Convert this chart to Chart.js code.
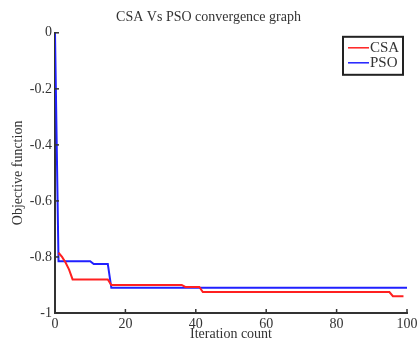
<!DOCTYPE html>
<html>
<head>
<meta charset="utf-8">
<script src="https://cdn.jsdelivr.net/npm/chart.js@4"></script>
<style>
  html, body { margin: 0; padding: 0; background: #fff; }
  #wrap { width: 417px; height: 343px; }
</style>
</head>
<body>
<div id="wrap"><canvas id="conv" width="417" height="343"></canvas></div>
<script>
// values
const csaIter = [1, 2, 3, 4, 5, 15, 16, 36, 37, 41, 42, 95, 96, 99];
const csaVals = [-0.785, -0.8, -0.82, -0.845, -0.88, -0.88, -0.9, -0.9, -0.907, -0.907, -0.925, -0.925, -0.94, -0.94];
const psoIter = [0, 1, 10, 11, 15, 16, 100];
const psoVals = [0, -0.815, -0.815, -0.825, -0.825, -0.91, -0.91];
const xTicks = [0, 20, 40, 60, 80, 100];
const yTicks = [0, -0.2, -0.4, -0.6, -0.8, -1];

const serif = 'Liberation Serif';
const axisCol = '#333';

// inward tick marks + legend box, matlab style
const extras = {
    id: 'extras',
    afterDraw(chart) {
        const ctx = chart.ctx;
        const xs = chart.scales.x, ys = chart.scales.y;
        const a = chart.chartArea;
        ctx.save();
        ctx.strokeStyle = axisCol;
        ctx.lineWidth = 1.5;
        xTicks.forEach(t => {
            const px = xs.getPixelForValue(t);
            ctx.beginPath(); ctx.moveTo(px, a.bottom); ctx.lineTo(px, a.bottom - 4); ctx.stroke();
        });
        yTicks.forEach(t => {
            const py = ys.getPixelForValue(t);
            ctx.beginPath(); ctx.moveTo(a.left, py); ctx.lineTo(a.left + 4, py); ctx.stroke();
        });
        // legend
        const bx = a.right - 64, by = a.top + 4, bw = 60, bh = 38;
        ctx.fillStyle = '#fff';
        ctx.fillRect(bx, by, bw, bh);
        ctx.lineWidth = 2;
        ctx.strokeStyle = '#222';
        ctx.strokeRect(bx, by, bw, bh);
        ctx.font = '15px "' + serif + '"';
        ctx.textBaseline = 'middle';
        chart.data.datasets.forEach((ds, i) => {
            const ly = by + 11 + i * 15;
            ctx.strokeStyle = ds.borderColor;
            ctx.lineWidth = 1.5;
            ctx.beginPath(); ctx.moveTo(bx + 5, ly); ctx.lineTo(bx + 26, ly); ctx.stroke();
            ctx.fillStyle = axisCol;
            ctx.fillText(ds.label, bx + 27, ly);
        });
        ctx.restore();
    }
};

new Chart(document.getElementById('conv'), {
    type: 'line',
    data: {
        datasets: [{
            label: 'CSA',
            data: csaIter.map((x, i) => ({ x: x, y: csaVals[i] })),
            borderColor: '#ff2020',
            borderWidth: 2,
            pointRadius: 0,
            tension: 0
        }, {
            label: 'PSO',
            data: psoIter.map((x, i) => ({ x: x, y: psoVals[i] })),
            borderColor: '#2020ff',
            borderWidth: 2,
            pointRadius: 0,
            tension: 0
        }]
    },
    options: {
        responsive: false,
        animation: false,
        layout: { padding: { left: 10, right: 10, top: 0, bottom: 0 } },
        plugins: {
            legend: { display: false },
            tooltip: { enabled: false },
            title: {
                display: true,
                text: 'CSA Vs PSO convergence graph',
                color: axisCol,
                font: { family: serif, size: 14, weight: 'normal' },
                padding: { top: 9, bottom: 7 }
            }
        },
        scales: {
            x: {
                type: 'linear',
                min: 0, max: 100,
                afterBuildTicks: s => { s.ticks = xTicks.map(v => ({ value: v })); },
                afterFit: s => { s.height = 30; s.paddingLeft = 0; s.paddingRight = 0; },
                grid: { drawOnChartArea: false, drawTicks: false },
                border: { color: axisCol, width: 2 },
                ticks: {
                    color: axisCol,
                    padding: 3,
                    maxRotation: 0,
                    font: { family: serif, size: 14 }
                },
                title: {
                    display: true,
                    text: 'Iteration count',
                    color: axisCol,
                    padding: 0,
                    font: { family: serif, size: 14 }
                }
            },
            y: {
                min: -1, max: 0,
                afterBuildTicks: s => { s.ticks = yTicks.map(v => ({ value: v })); },
                afterFit: s => { s.width = 45; },
                grid: { drawOnChartArea: false, drawTicks: false },
                border: { color: axisCol, width: 2 },
                ticks: {
                    color: axisCol,
                    padding: 3,
                    font: { family: serif, size: 14 },
                    callback: v => String(Math.round(v * 10) / 10)
                },
                title: {
                    display: true,
                    text: 'Objective function',
                    color: axisCol,
                    padding: 0,
                    font: { family: serif, size: 14 }
                }
            }
        }
    },
    plugins: [extras]
});
</script>
</body>
</html>
